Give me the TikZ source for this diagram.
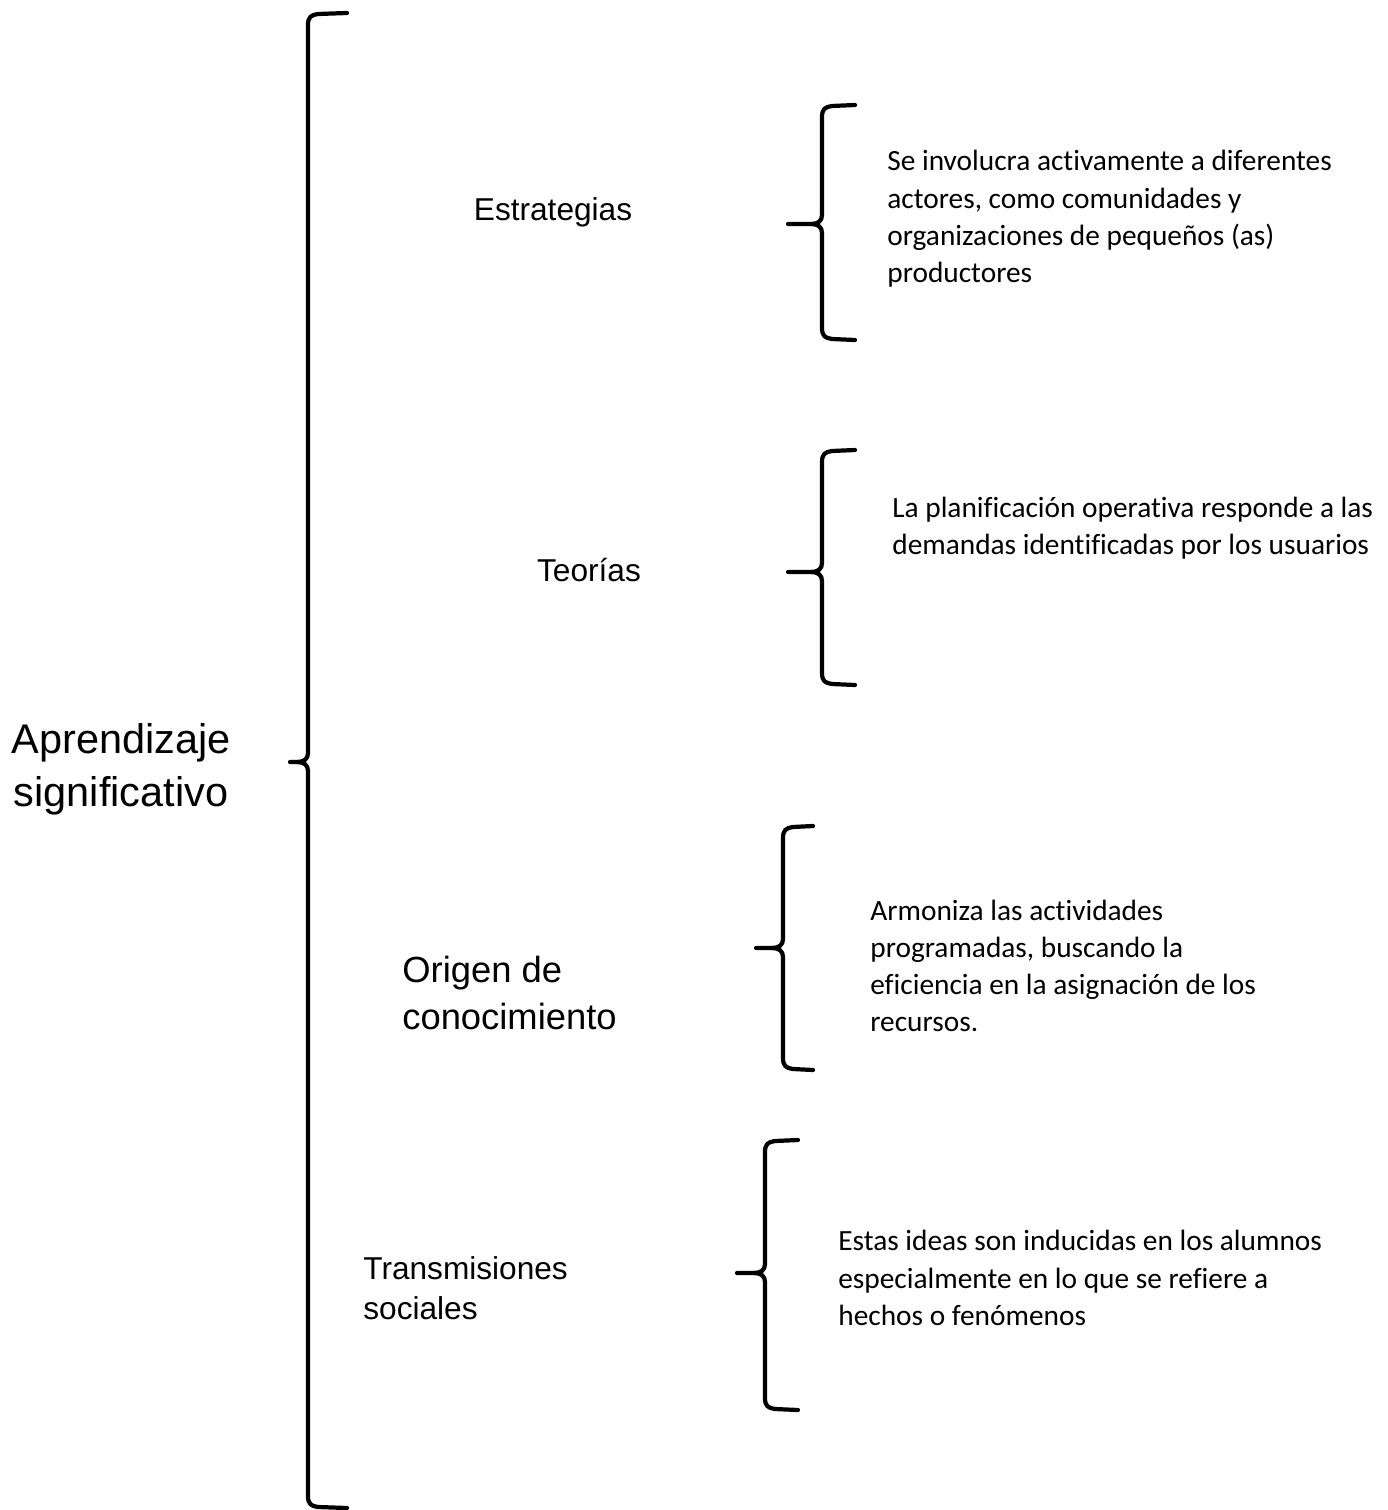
\documentclass[tikz,border=0pt]{standalone}
\usepackage{fontspec}
\setmainfont[Ligatures=NoCommon]{Carlito}
\newfontfamily\arialfont[Ligatures=NoCommon]{Liberation Sans}
\usetikzlibrary{positioning}
\tikzstyle{trazo} = [line width=2.4pt, line cap=round, line join=round, black]
\tikzstyle{concepto} = [inner sep=0pt, align=left, font=\arialfont\fontsize{18}{22.7}\selectfont]
\tikzstyle{detalle} = [inner sep=0pt, align=left, anchor=west, font=\fontsize{16.7}{21.2}\selectfont]

% curly brace: vertical x, tip x, arm x, top y, tip y, bottom y
\newcommand{\llave}[6]{%
\draw[trazo] (#3,#4) -- (#1+10,#4+1) .. controls (#1+3,#4+2) and (#1,#4+4) .. (#1,#4+12)
  -- (#1,#5-9) .. controls (#1,#5-3) and (#1-4,#5) .. (#1-11,#5) -- (#2,#5);
\draw[trazo] (#3,#6) -- (#1+10,#6-1) .. controls (#1+3,#6-2) and (#1,#6-4) .. (#1,#6-12)
  -- (#1,#5+9) .. controls (#1,#5+3) and (#1-4,#5) .. (#1-11,#5);
}

\begin{document}
\begin{tikzpicture}[x=0.02cm, y=-0.02cm]
\useasboundingbox (0,0) rectangle (1387,1510);

% Main concept
\node[concepto, align=center, font=\arialfont\fontsize{23.6}{30}\selectfont] (aprendizaje) at (121,769) {Aprendizaje\\significativo};
\llave{308}{290}{347}{13}{762}{1508}

% Estrategias
\node[concepto] (estrategias) at (553,212) {Estrategias};
\llave{822}{788}{855}{105}{224}{340}
\node[detalle] (estrategiasTxt) at (887,219) {Se involucra activamente a diferentes\\actores, como comunidades y\\organizaciones de pequeños (as)\\productores};

% Teorias
\node[concepto] (teorias) at (589,570) {Teorías};
\llave{822}{788}{855}{450}{572}{685}
\node[detalle] (teoriasTxt) at (892,528) {La planificación operativa responde a las\\demandas identificadas por los usuarios};

% Origen de conocimiento
\node[concepto, anchor=west, font=\arialfont\fontsize{20.7}{27}\selectfont] (origen) at (402,993) {Origen de\\conocimiento};
\llave{783}{756}{813}{826}{948}{1070}
\node[detalle] (origenTxt) at (870,966) {Armoniza las actividades\\programadas, buscando la\\eficiencia en la asignación de los\\recursos.};

% Transmisiones sociales
\node[concepto, anchor=west] (transmisiones) at (363,1288) {Transmisiones\\sociales};
\llave{765}{737}{798}{1140}{1273}{1410}
\node[detalle] (transmisionesTxt) at (838,1278) {Estas ideas son inducidas en los alumnos\\especialmente en lo que se refiere a\\hechos o fenómenos};
\end{tikzpicture}
\end{document}
